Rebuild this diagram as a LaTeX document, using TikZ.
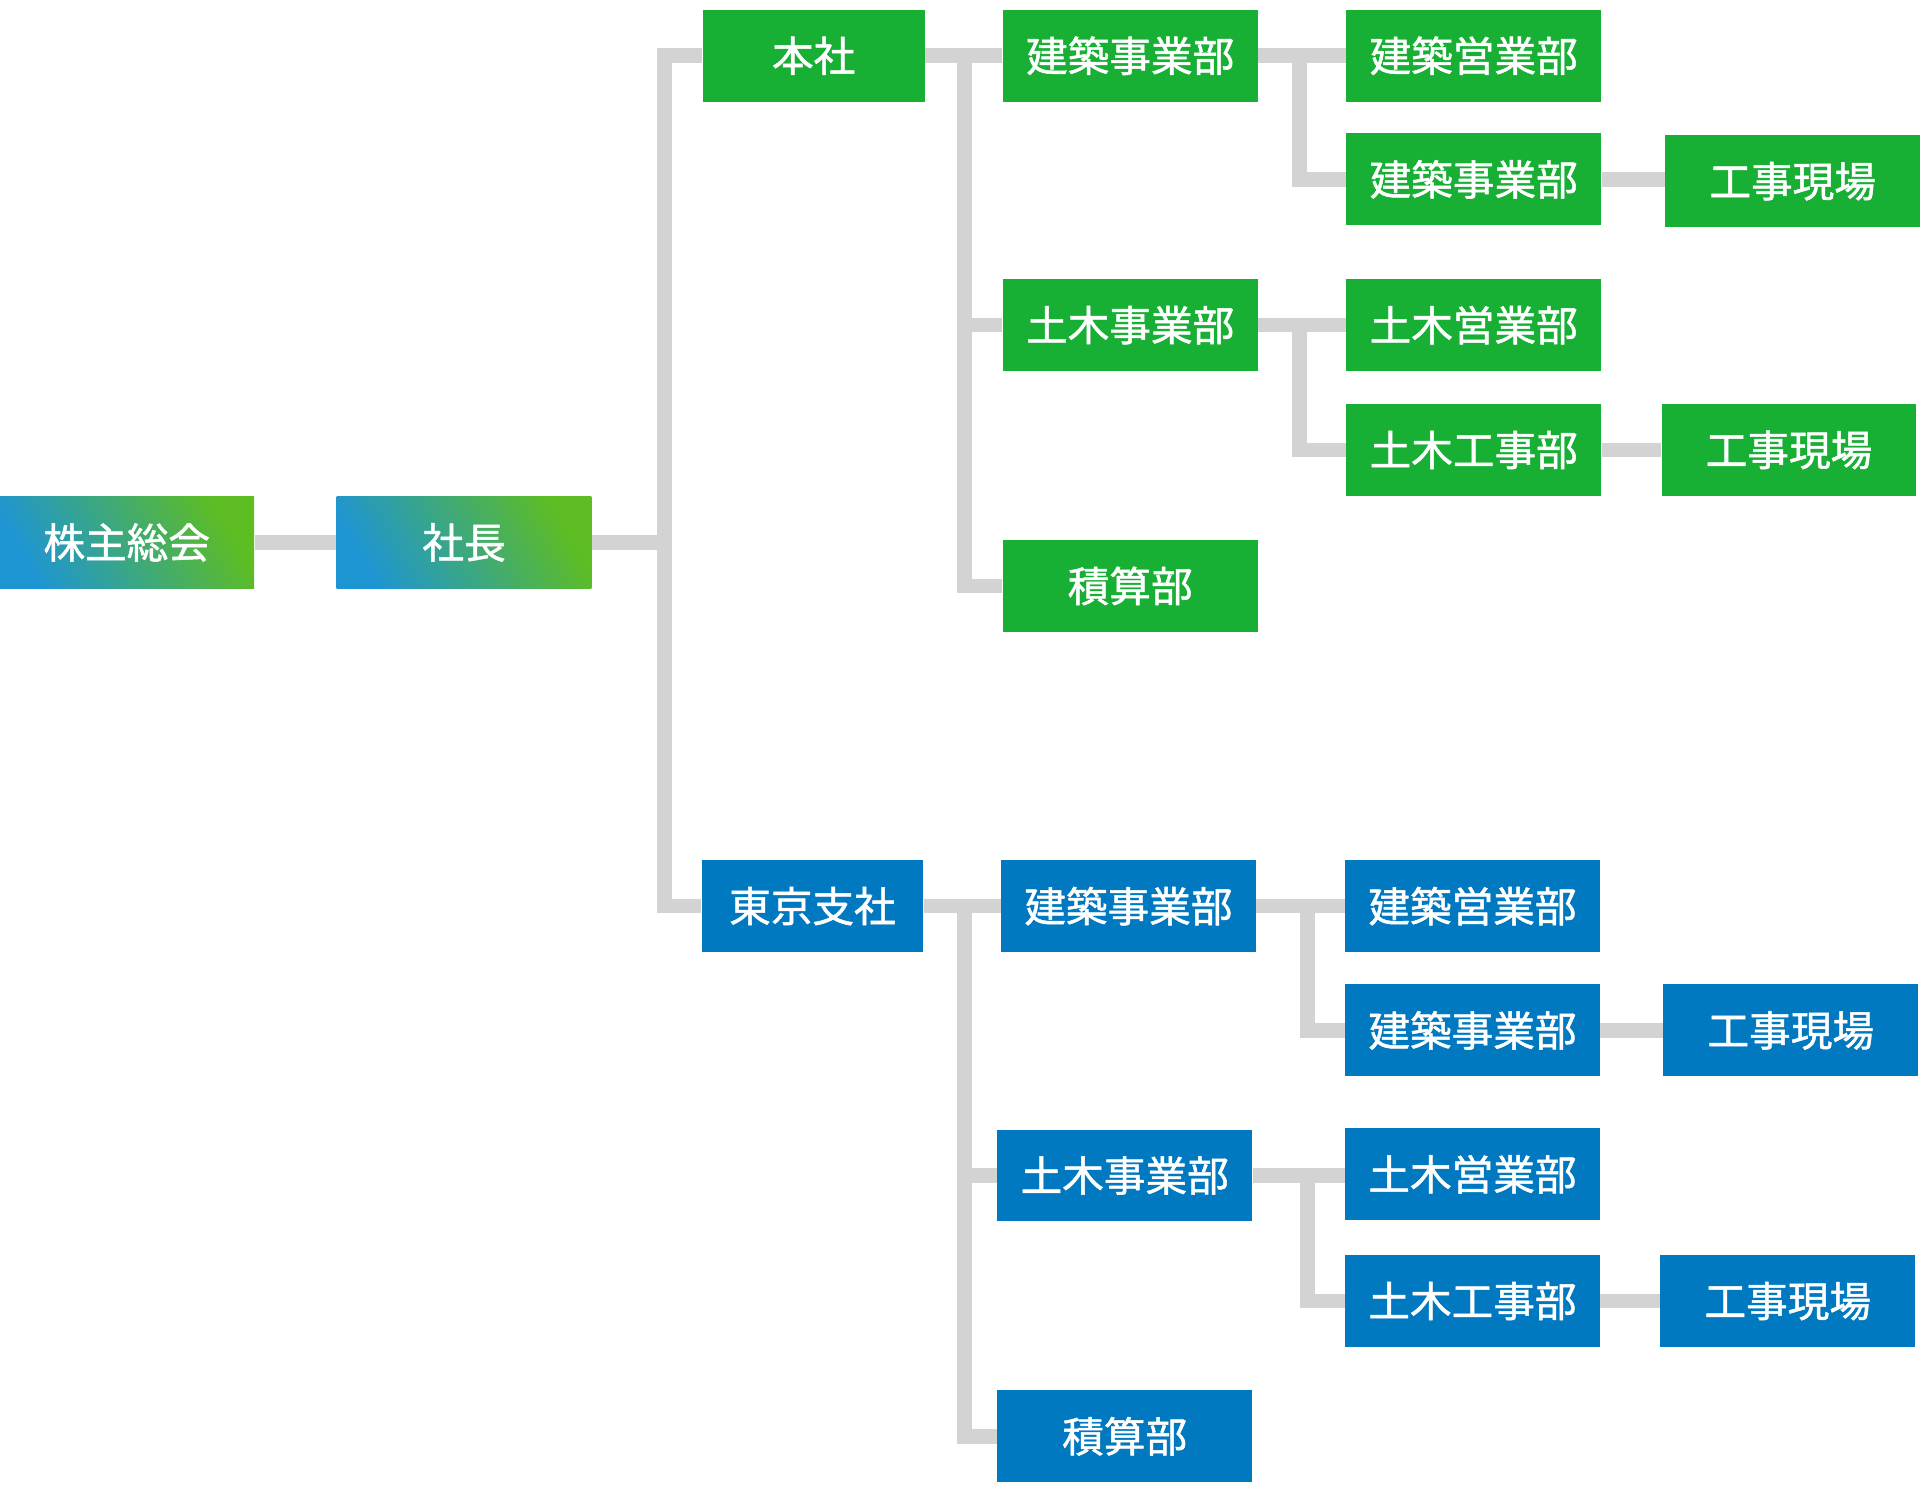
\documentclass[tikz,border=0pt]{standalone}
\usepackage{fontspec}
\setmainfont{Noto Sans CJK JP}[FakeBold=1.2]
\usepackage{tikz}

\definecolor{hqgreen}{HTML}{17AF34}
\definecolor{brblue}{HTML}{0079C1}
\definecolor{linegray}{HTML}{D3D3D3}
\definecolor{gradblue}{HTML}{1E95D3}
\definecolor{gradgreen}{HTML}{5EBD22}

\begin{document}
\begin{tikzpicture}[x=0.5pt, y=-0.5pt,
    every node/.style={font=\fontsize{17pt}{17pt}\selectfont, text=white, inner sep=0pt, minimum height=37.5pt, minimum width=104pt},
    hq/.style={fill=hqgreen},
    br/.style={fill=brblue},
    topbox/.style={top color=gradgreen, bottom color=gradblue, shading angle=-60},
    conn/.style={draw=linegray, line width=6pt, line join=miter}]
    \useasboundingbox (0,0) rectangle (1568,1219);

    % top
    \node[topbox] (kabunushi) at (103.5,443) {株主総会};
    \node[topbox] (shacho) at (379,443) {社長};

    % head office
    \node[hq, minimum width=90.5pt] (honsha) at (664.5,45.5) {本社};
    \node[hq] (kenchiku) at (923,45.5) {建築事業部};
    \node[hq] (kenei) at (1203.5,45.5) {建築営業部};
    \node[hq] (kenji) at (1203.5,146.5) {建築事業部};
    \node[hq] (genba1) at (1464,148) {工事現場};
    \node[hq] (doboku) at (923,265.5) {土木事業部};
    \node[hq] (doei) at (1203.5,265.5) {土木営業部};
    \node[hq] (doko) at (1203.5,367.5) {土木工事部};
    \node[hq] (genba2) at (1461,367.5) {工事現場};
    \node[hq] (sekisan) at (923,478.5) {積算部};

    % tokyo branch
    \node[br, minimum width=90.5pt] (tokyo) at (663.5,740) {東京支社};
    \node[br] (tkenchiku) at (921.5,740) {建築事業部};
    \node[br] (tkenei) at (1202.5,740) {建築営業部};
    \node[br] (tkenji) at (1202.5,841.5) {建築事業部};
    \node[br] (tgenba1) at (1462.5,841.5) {工事現場};
    \node[br] (tdoboku) at (918.5,960) {土木事業部};
    \node[br] (tdoei) at (1202.5,959) {土木営業部};
    \node[br] (tdoko) at (1202.5,1062.5) {土木工事部};
    \node[br] (tgenba2) at (1460,1062.5) {工事現場};
    \node[br] (tsekisan) at (918.5,1173) {積算部};

    % lines
    \draw[conn] (kabunushi) -- (shacho);
    \draw[conn] (shacho.east) -- ++(59,0) |- (honsha.west);
    \draw[conn] (shacho.east) -- ++(59,0) |- (tokyo.west);

    \draw[conn] (honsha) -- (kenchiku);
    \draw[conn] (honsha.east) -- ++(32,0) |- (doboku.west);
    \draw[conn] (honsha.east) -- ++(32,0) |- (sekisan.west);
    \draw[conn] (kenchiku) -- (kenei);
    \draw[conn] (kenchiku.east) -- ++(34,0) |- (kenji.west);
    \draw[conn] (kenji.east) -- (genba1.west |- kenji.east);
    \draw[conn] (doboku) -- (doei);
    \draw[conn] (doboku.east) -- ++(34,0) |- (doko.west);
    \draw[conn] (doko) -- (genba2);

    \draw[conn] (tokyo) -- (tkenchiku);
    \draw[conn] (tokyo.east) -- ++(33,0) |- (tdoboku.west);
    \draw[conn] (tokyo.east) -- ++(33,0) |- (tsekisan.west);
    \draw[conn] (tkenchiku) -- (tkenei);
    \draw[conn] (tkenchiku.east) -- ++(42,0) |- (tkenji.west);
    \draw[conn] (tkenji) -- (tgenba1);
    \draw[conn] (tdoboku.east) -- (tdoei.west |- tdoboku.east);
    \draw[conn] (tdoboku.east) -- ++(45,0) |- (tdoko.west);
    \draw[conn] (tdoko) -- (tgenba2);
\end{tikzpicture}
\end{document}
